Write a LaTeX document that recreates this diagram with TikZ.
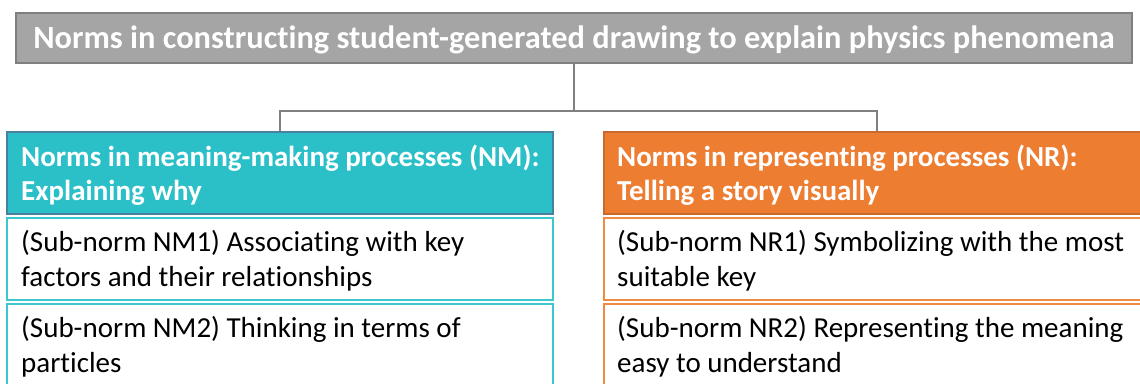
\documentclass[tikz,border=0pt]{standalone}
\usepackage{fontspec}
\setmainfont{Carlito}[Ligatures=NoCommon]
\definecolor{titlefill}{HTML}{A5A5A5}
\definecolor{titleline}{HTML}{7F7F7F}
\definecolor{tealfill}{HTML}{2BBFC8}
\definecolor{tealline}{HTML}{4A7FA0}
\definecolor{tealsub}{HTML}{3CC6CE}
\definecolor{orangefill}{HTML}{ED7D31}
\definecolor{orangeline}{HTML}{C8692E}
\definecolor{orangesub}{HTML}{F08A45}
\definecolor{conn}{HTML}{808080}
\tikzset{
  box/.style={rectangle, inner sep=0pt, minimum width=546pt, minimum height=82pt},
  titlebox/.style={rectangle, inner sep=0pt, minimum width=1116pt, minimum height=50pt, fill=titlefill, draw=titleline, line width=1.2pt},
  nmhead/.style={box, fill=tealfill, draw=tealline, line width=1.5pt},
  nrhead/.style={box, fill=orangefill, draw=orangeline, line width=1.5pt},
  nmsub/.style={box, fill=white, draw=tealsub, line width=1.8pt},
  nrsub/.style={box, fill=white, draw=orangesub, line width=1.8pt},
  titletext/.style={inner sep=0pt, anchor=base, text=white, font=\fontsize{32.4}{38}\selectfont\bfseries},
  headtext/.style={inner sep=0pt, anchor=base west, text=white, font=\fontsize{29}{35}\selectfont\bfseries},
  subtext/.style={inner sep=0pt, anchor=base west, text=black, font=\fontsize{29}{35}\selectfont},
  connector/.style={draw=conn, line width=1.2pt}
}
\begin{document}
\begin{tikzpicture}[x=1pt,y=-1pt]
\useasboundingbox (0,0) rectangle (1140,383);
\fill[white] (0,0) rectangle (1140,383);
% title
\node[titlebox] (title) at (574,38) {};
\node[titletext] (titlet) at (574,48) {Norms in constructing student-generated drawing to explain physics phenomena};
% headers
\node[nmhead] (nmh) at (280,173) {};
\node[nrhead] (nrh) at (877,173) {};
\node[nmsub] (nm1) at (280,259) {};
\node[nmsub] (nm2) at (280,345) {};
\node[nrsub] (nr1) at (877,259) {};
\node[nrsub] (nr2) at (877,345) {};
% connectors
\coordinate (j) at (574,111);
\draw[connector] (title.south) -- (j);
\draw[connector] (nmh.north) |- (j) -| (nrh.north);
% texts
\node[headtext] (nmh1) at (21,166) {Norms in meaning-making processes (NM):};
\node[headtext] (nmh2) at (21,200) {Explaining why};
\node[headtext] (nrh1) at (617,166) {Norms in representing processes (NR):};
\node[headtext] (nrh2) at (617,200) {Telling a story visually};
\node[subtext] (nm1a) at (21,251) {(Sub-norm NM1) Associating with key};
\node[subtext] (nm1b) at (21,286) {factors and their relationships};
\node[subtext] (nm2a) at (21,337) {(Sub-norm NM2) Thinking in terms of};
\node[subtext] (nm2b) at (21,372) {particles};
\node[subtext] (nr1a) at (617,251) {(Sub-norm NR1) Symbolizing with the most};
\node[subtext] (nr1b) at (617,286) {suitable key};
\node[subtext] (nr2a) at (617,337) {(Sub-norm NR2) Representing the meaning};
\node[subtext] (nr2b) at (617,372) {easy to understand};
\end{tikzpicture}
\end{document}
